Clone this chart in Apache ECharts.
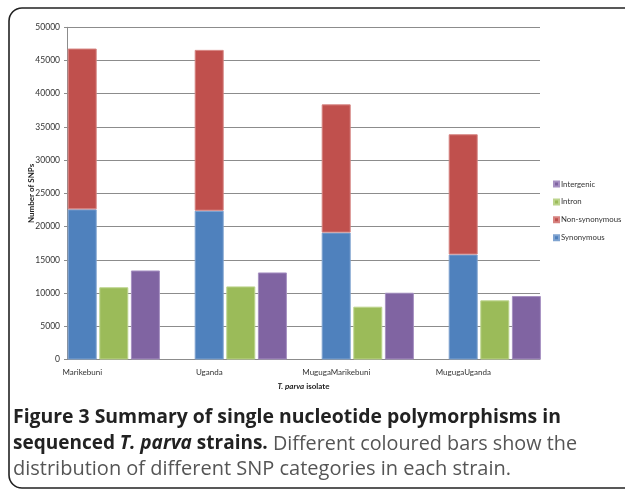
<!DOCTYPE html>
<html>
<head>
<meta charset="utf-8">
<script src="https://cdn.jsdelivr.net/npm/echarts@6/dist/echarts.min.js"></script>
<style>
html,body{margin:0;padding:0;background:#fff;}
#c{width:625px;height:490px;}
</style>
</head>
<body>
<div id="c"></div>
<script>
// ---- data ----
var categories = ['Marikebuni', 'Uganda', 'MugugaMarikebuni', 'MugugaUganda'];
var synonymous = [22600, 22400, 19100, 15800];
var nonSynonymous = [24200, 24200, 19300, 18100];
var intron = [10870, 11000, 7950, 8900];
var intergenic = [13400, 13100, 10050, 9550];
var yTicks = { min: 0, max: 50000, interval: 5000 };
var legendOrder = ['Intergenic', 'Intron', 'Non-synonymous', 'Synonymous'];

var chart = echarts.init(document.getElementById('c'), null, { renderer: 'canvas' });
var font = 'Lato, "Open Sans", sans-serif';
var gridTop = 27.3, gridH = 332.2;
var capFont = '"Open Sans", sans-serif';

function barStyle(c, b) {
  return { color: c, borderColor: b, borderWidth: 1 };
}

var option = {
  backgroundColor: '#fff',
  animation: false,
  textStyle: { fontFamily: font },
  grid: [
    { left: 67, top: gridTop, width: 473, height: gridH },
    { left: 50.3, top: gridTop, width: 508, height: gridH }
  ],
  xAxis: [
    {
      gridIndex: 0, type: 'value', min: 0, max: 1,
      axisLine: { show: true, lineStyle: { color: '#8c8c8c', width: 1 } },
      axisTick: { show: false }, axisLabel: { show: false }, splitLine: { show: false },
      name: '{i|T. parva}{n| isolate}', nameLocation: 'middle', nameGap: 23, nameMoveOverlap: false,
      nameTextStyle: {
        rich: {
          i: { fontFamily: font, fontSize: 8, fontWeight: 'bold', fontStyle: 'italic', color: '#222' },
          n: { fontFamily: font, fontSize: 8, fontWeight: 'bold', color: '#222' }
        }
      }
    },
    {
      gridIndex: 1, type: 'category', data: categories,
      axisLine: { show: false }, axisTick: { show: false }, splitLine: { show: false },
      axisLabel: {
        margin: 9, interval: 0, hideOverlap: false,
        formatter: function (v) { return '{a|' + v + '}'; },
        rich: { a: { fontFamily: font, fontSize: 8, color: '#333', padding: [0, 63, 0, 0] } }
      }
    }
  ],
  yAxis: [
    {
      gridIndex: 0, type: 'value', min: yTicks.min, max: yTicks.max, interval: yTicks.interval,
      axisLine: { show: true, lineStyle: { color: '#8c8c8c', width: 1 } },
      axisTick: { show: true, length: 3, lineStyle: { color: '#8c8c8c' } },
      splitLine: { show: true, lineStyle: { color: '#8c8c8c', width: 1 } },
      axisLabel: { fontFamily: font, fontSize: 8.5, color: '#333', margin: 7,
        formatter: function (v) { return String(v); } },
      name: 'Number of SNPs', nameLocation: 'middle', nameGap: 32, nameRotate: 90, nameMoveOverlap: false,
      nameTextStyle: { fontFamily: font, fontSize: 8, fontWeight: 'bold', color: '#222' }
    },
    {
      gridIndex: 1, type: 'value', min: yTicks.min, max: yTicks.max, interval: yTicks.interval, show: false
    }
  ],
  legend: {
    data: legendOrder,
    orient: 'vertical',
    left: 553, top: 180, padding: 0,
    itemWidth: 5, itemHeight: 5, itemGap: 9.9,
    icon: 'rect',
    textStyle: { fontFamily: font, fontSize: 7.8, color: '#333', overflow: 'none', width: 100,
      padding: [0, 0, 0, -3] }
  },
  series: [
    { name: 'Synonymous', type: 'bar', stack: 'coding', xAxisIndex: 1, yAxisIndex: 1,
      barWidth: 29, barGap: '9%', data: synonymous, itemStyle: barStyle('#4f81bd', '#7fa3d0') },
    { name: 'Non-synonymous', type: 'bar', stack: 'coding', xAxisIndex: 1, yAxisIndex: 1,
      barWidth: 29, barGap: '9%', data: nonSynonymous, itemStyle: barStyle('#c0504d', '#d68380') },
    { name: 'Intron', type: 'bar', xAxisIndex: 1, yAxisIndex: 1,
      barWidth: 29, barGap: '9%', data: intron, itemStyle: barStyle('#9bbb59', '#bcd48c') },
    { name: 'Intergenic', type: 'bar', xAxisIndex: 1, yAxisIndex: 1,
      barWidth: 29, barGap: '9%', data: intergenic, itemStyle: barStyle('#8064a2', '#a690c2') }
  ],
  graphic: [
    { type: 'rect', silent: true, z: -1,
      shape: { x: 9, y: 8, width: 660, height: 480, r: 13 },
      style: { fill: 'none', stroke: '#222', lineWidth: 1.6 } },
    { type: 'text', left: 13, top: 408,
      style: { text: 'Figure 3 Summary of single nucleotide polymorphisms in',
        font: 'bold 19.4px ' + capFont, fill: '#222' } },
    { type: 'text', left: 13, top: 434,
      style: {
        text: '{b|sequenced }{bi|T. parva}{b| strains.}{n| Different coloured bars show the}',
        rich: {
          b: { fontFamily: capFont, fontSize: 19, fontWeight: 'bold', fill: '#222', color: '#222' },
          bi: { fontFamily: capFont, fontSize: 19, fontWeight: 'bold', fontStyle: 'italic', fill: '#222', color: '#222' },
          n: { fontFamily: capFont, fontSize: 19.8, fill: '#555', color: '#555' }
        }
      } },
    { type: 'text', left: 13, top: 459,
      style: { text: 'distribution of different SNP categories in each strain.',
        font: '20px ' + capFont, fill: '#555' } }
  ]
};
chart.setOption(option);
</script>
</body>
</html>
